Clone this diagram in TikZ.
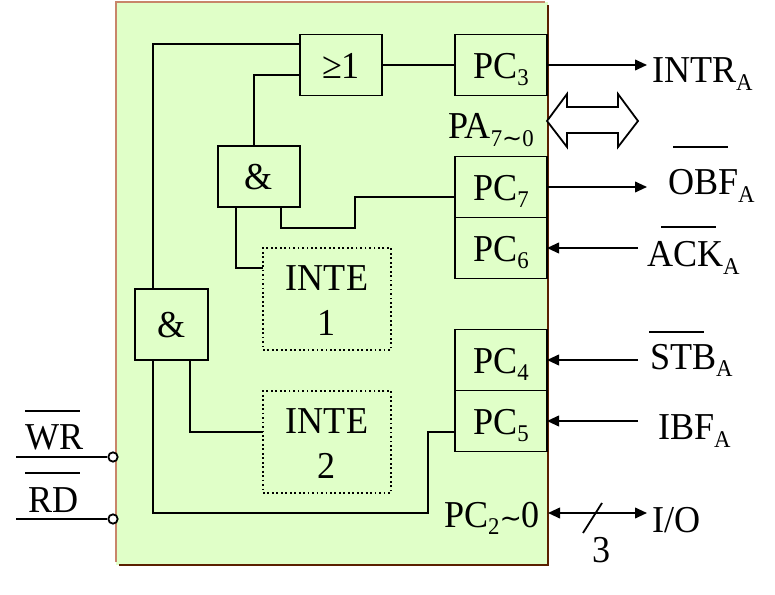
\documentclass[tikz,border=0pt]{standalone}
\usepackage{fontspec}
\setmainfont[FakeStretch=0.95]{Liberation Serif}
\newfontfamily\tildefont{DejaVu Sans}
\usetikzlibrary{arrows.meta}

\newcommand{\subtxt}[1]{\raisebox{-0.2em}{\fontsize{18}{18}\selectfont #1}}
\newcommand{\wave}[1]{{\tildefont\fontsize{#1}{#1}\selectfont ∼}}

\tikzset{
    wire/.style={line width=1.35pt},
    sig/.style={wire, -{Triangle[length=9pt,width=8pt]}},
    gate/.style={draw, wire, inner sep=0pt, outer sep=0pt, font=\fontsize{28.5}{33.75}\selectfont},
    tallbox/.style={gate, text height=20pt, text depth=0pt},
    pcbox/.style={tallbox, minimum width=69pt, minimum height=45.75pt},
    logicbox/.style={tallbox, minimum width=61.5pt, minimum height=45.75pt},
    intebox/.style={gate, dotted, align=center, minimum width=96pt, minimum height=76.5pt},
    lbl/.style={anchor=base west, inner sep=0pt, outer sep=0pt, font=\fontsize{28.5}{33.75}\selectfont},
    pin/.style={draw, circle, wire, fill=white, inner sep=0pt, minimum size=7pt}
}
\definecolor{panelgreen}{HTML}{E0FFC8}
\definecolor{paneltan}{HTML}{C8866A}
\definecolor{paneldark}{HTML}{5A2000}

\begin{document}
\begin{tikzpicture}[x=0.75pt, y=-0.75pt]
    \useasboundingbox (0,0) rectangle (775,595);

    % Панель
    \fill[panelgreen] (116,2) rectangle (548,565);
    \draw[paneltan, line width=1.5pt] (116,562) -- (116,2) -- (545,2);
    \draw[paneldark, line width=1.5pt] (548,5) -- (548,565) -- (119,565);

    % Блоки
    \node[logicbox] (orgate) at (341,65) {≥1};
    \node[logicbox] (andup) at (259,176.5) {\&};
    \node[tallbox, minimum width=54.75pt, minimum height=53.25pt] (andlow) at (171.5,324.5) {\&};
    \node[intebox] (inteone) at (327,299) {INTE\rule{0pt}{21pt}\\1};
    \node[intebox] (intetwo) at (327,442) {INTE\rule{0pt}{21pt}\\2};

    \foreach \name/\y/\n in {pcthree/65/3, pcseven/187/7, pcsix/248/6, pcfour/360/4, pcfive/421/5}
        \node[pcbox] (\name) at (501,\y) {PC\subtxt{\n}};

    % Подписи
    \node[lbl] (pa) at (448,139) {PA\subtxt{7\wave{18}0}};
    \node[lbl] (pctwo) at (444,527) {PC\subtxt{2}\wave{20}0};
    \node[lbl] (intr) at (652,83) {INTR\subtxt{A}};
    \node[lbl] (obf) at (668,195) {OBF\subtxt{A}};
    \node[lbl] (ack) at (647,267) {ACK\subtxt{A}};
    \node[lbl] (stb) at (650,369) {STB\subtxt{A}};
    \node[lbl] (ibf) at (658,440) {IBF\subtxt{A}};
    \node[lbl] (io) at (652,532) {I/O};
    \node[lbl] (wr) at (25,450) {WR};
    \node[lbl] (rd) at (28,512) {RD};
    \node[lbl] (three) at (592,562) {3};

    % Черта над сигналом
    \foreach \xa/\xb/\y in {25/80/411, 25/80/473, 673/728/147, 661/716/227, 649/704/332}
        \draw[wire] (\xa,\y) -- (\xb,\y);

    % Входы слева
    \node[pin] (wrpin) at (113,457) {};
    \node[pin] (rdpin) at (113,519) {};
    \coordinate (wrend) at (16,457);
    \coordinate (rdend) at (16,519);
    \draw[wire] (wrend) -- (wrpin);
    \draw[wire] (rdend) -- (rdpin);

    % Внутренние линии
    \coordinate (orinone) at (300,44);
    \coordinate (orintwo) at (300,75);
    \coordinate (trunk) at (153,289);
    \coordinate (trunkbot) at (153,360);
    \coordinate (pcfivein) at (455,432);
    \coordinate (andoutl) at (236,207);
    \coordinate (andoutr) at (281,207);
    \coordinate (inteonein) at (263,268);
    \coordinate (andlowout) at (190,360);
    \coordinate (intetwoin) at (263,432);

    \draw[wire] (trunk) |- (orinone);
    \draw[wire] (andup.north -| 254,0) |- (orintwo);
    \draw[wire] (orgate) -- (pcthree);
    \draw[wire] (andoutl) |- (inteonein);
    \draw[wire] (andoutr) -- (281,228) -- (355,228) -- (355,197) -- (pcseven.west |- 0,197);
    \draw[wire] (andlowout) |- (intetwoin);
    \draw[wire] (trunkbot) -- (153,513) -- (428,513) -- (428,432) -- (pcfivein);

    % Выводы справа
    \coordinate (intrend) at (647,65);
    \coordinate (obfend) at (647,187);
    \coordinate (ackend) at (638,248);
    \coordinate (stbend) at (638,360);
    \coordinate (ibfend) at (638,421);
    \coordinate (pctwoend) at (548,513);
    \coordinate (ioend) at (647,513);

    \draw[sig] (pcthree.east) -- (intrend);
    \draw[sig] (pcseven.east) -- (obfend);
    \draw[sig] (ackend) -- (pcsix.east);
    \draw[sig] (stbend) -- (pcfour.east);
    \draw[sig] (ibfend) -- (pcfive.east);
    \draw[wire, {Triangle[length=9pt,width=8pt]}-{Triangle[length=9pt,width=8pt]}] (pctwoend) -- (ioend);
    \draw[wire] (583,533) -- (602,503);

    % Двойная стрелка
    \draw[wire, fill=white, line join=miter] (547,121) -- (567,94) -- (567,107) -- (618,107) -- (618,94)
        -- (638,121) -- (618,147) -- (618,133) -- (567,133) -- (567,147) -- cycle;
\end{tikzpicture}
\end{document}
